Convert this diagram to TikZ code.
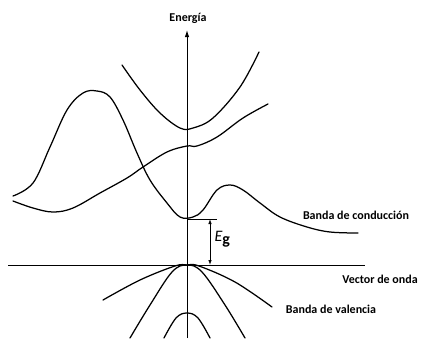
\documentclass[tikz,border=0pt]{standalone}
\usepackage{fontspec}
\setmainfont{Carlito}
\usetikzlibrary{arrows.meta, positioning}

\begin{document}
\begin{tikzpicture}[
      x=1pt, y=-1pt,
      band/.style={line width=1.25pt, line cap=round, smooth, tension=0.6},
      axis/.style={line width=1pt},
      lbl/.style={font=\bfseries\fontsize{12}{14}\selectfont, inner sep=1pt}
    ]
      \useasboundingbox (0,0) rectangle (431,338);
      % axes
      \coordinate (ebottom) at (187,338);
      \coordinate (etop) at (187,30);
      \coordinate (kleft) at (8,265);
      \coordinate (kright) at (365,265);
      \node[lbl] (energia) at (188,18) {Energía};
      \node[lbl] (vector) at (380,279) {Vector de onda};
      \draw[axis, -{Latex[length=7pt, width=4.5pt]}] (ebottom) -- (etop);
      \draw[axis] (kleft) -- (kright);
      % conduction bands
      \draw[band] plot coordinates {(122,65) (140,90) (160,113) (180,128) (193,128)
        (213,118) (240,87) (259,52)};
      \draw[band] plot coordinates {(13,201) (33,208) (53,212) (73,208) (100,193)
        (127,178) (143,167) (167,152) (187,146) (197,146) (217,137) (243,118) (268,104)};
      \draw[band] plot coordinates {(13,196) (33,183) (50,147) (67,110) (83,93)
        (97,91) (110,97) (123,120) (137,153) (150,180) (167,203) (180,217) (193,217)
        (203,210) (217,190) (230,185) (243,190) (260,203) (280,217) (307,227)
        (330,232) (358,233)};
      \node[lbl] (conduccion) at (356,215) {Banda de conducción};
      % valence bands
      \draw[band] plot coordinates {(103,300) (140,280) (175,266) (187,265)
        (199,266) (235,282) (272,307)};
      \draw[band] plot coordinates {(130,338) (150,305) (172,272) (187,265)
        (202,272) (225,305) (245,338)};
      \draw[band] plot coordinates {(164,338) (176,318) (187,313) (198,318) (210,338)};
      \node[lbl] (valencia) at (331,309) {Banda de valencia};
      % band gap
      \coordinate (cbmin) at (187,219);
      \coordinate (gaptick) at (217,219);
      \coordinate (gaptop) at (210,219);
      \coordinate (gapbottom) at (210,265);
      \draw[line width=0.8pt] (cbmin) -- (gaptick);
      \draw[line width=0.8pt, {Latex[length=5pt, width=3.5pt]}-{Latex[length=5pt, width=3.5pt]}]
        (gaptop) -- (gapbottom);
      \node[font=\fontsize{16}{18}\selectfont, right=1pt of gaptop, yshift=-20pt] (eg)
        {$\textit{E}_{\textbf{g}}$};
\end{tikzpicture}
\end{document}
